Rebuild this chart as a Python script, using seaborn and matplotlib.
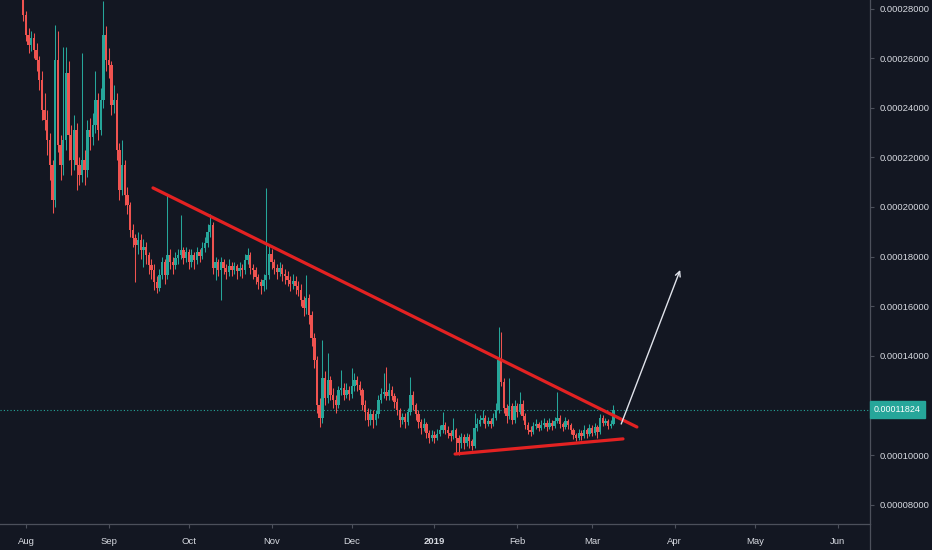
import numpy as np
import pandas as pd
import matplotlib
matplotlib.use("Agg")
import matplotlib.pyplot as plt
import matplotlib.dates as mdates
from matplotlib.lines import Line2D
from matplotlib.ticker import FuncFormatter
import seaborn as sns

BG = "#131722"
UP = "#26a69a"
DOWN = "#ef5350"
AXIS = "#4c505b"
TEXT = "#d6d9e0"
TREND = "#e32222"

# prices in units of 1e-8 (satoshi-like), daily candles from 2018-07-31
SCALE = 1e-8
start = "2018-07-31"
first_open = 28800

closes = [
    27740, 26930, 26530, 26810, 26330, 25930, 25120, 23910, 23510, 22700,
    21690, 20280, 25930, 22500, 21690, 22700, 25400, 22900, 21890, 23100,
    21690, 21290, 21890, 21490, 23100, 22820, 23310, 24310, 23100, 24310,
    26930, 25930, 25720, 24110, 24310, 22300, 20690, 21690, 20480, 20080,
    19070, 18750, 18470, 18670, 18270, 18390, 18060, 17660, 17460, 16980,
    16730, 17260, 17780, 17260, 18060, 17780, 17660, 17940, 18060, 18270,
    17940, 18190, 17780, 18060, 17860, 18190, 18020, 18350, 18550, 18990,
    19270, 17540, 17780, 17460, 17780, 17540, 17380, 17620, 17460, 17620,
    17420, 17540, 17460, 17860, 18060, 17540, 17460, 17180, 16980, 16810,
    17060, 17260, 18100, 17780, 17540, 17380, 17540, 17300, 17220, 17060,
    16900, 17020, 16810, 16650, 16250, 15930, 16330, 15650, 14720, 13830,
    12020, 11490, 13100, 12300, 13020, 12420, 12220, 12020, 12620, 12700,
    12420, 12620, 12460, 12780, 13020, 12820, 12620, 12020, 11730, 11410,
    11650, 11410, 11650, 12220, 12460, 12540, 12380, 12620, 12380, 12140,
    11810, 11410, 11530, 11330, 11730, 12420, 12020, 11650, 11330, 11090,
    11250, 10890, 10690, 10810, 10690, 10850, 11010, 11210, 11010, 10890,
    10770, 11010, 10690, 10480, 10730, 10480, 10730, 10560, 10360, 11090,
    11250, 11410, 11490, 11250, 11370, 11250, 11490, 11810, 13830, 12940,
    11900, 11570, 11980, 11410, 11980, 11730, 12060, 11570, 11210, 11010,
    10930, 11170, 11250, 11090, 11210, 11290, 11130, 11290, 11170, 11370,
    11490, 11250, 11130, 11370, 11210, 11010, 10810, 10690, 10890, 10770,
    11010, 10850, 11090, 10890, 11130, 10930, 11490, 11290, 11370, 11170,
    11250, 11824,
]

highs = [
    29500, 27900, 27200, 27100, 27000, 26600, 26100, 25500, 24600, 23900,
    23000, 21900, 27340, 27100, 22900, 26450, 26450, 25900, 23300, 23700,
    23400, 22000, 26200, 22300, 23500, 23600, 23800, 25500, 24600, 24800,
    28300, 27300, 26400, 25900, 24900, 24600, 22600, 22700, 21900, 20800,
    20200, 19300, 18900, 19000, 18900, 18700, 18600, 18200, 17900, 17700,
    17200, 17500, 18000, 17900, 20480, 18300, 18000, 18200, 18300, 19680,
    18400, 18400, 18300, 18300, 18200, 18400, 18300, 18600, 18800, 19300,
    19700, 19400, 18000, 17900, 18000, 17900, 17700, 17900, 17800, 17800,
    17700, 17800, 17700, 18100, 18350, 18200, 17700, 17600, 17300, 17100,
    17300, 20770, 18500, 18300, 17900, 17700, 17800, 17700, 17500, 17400,
    17200, 17300, 17200, 17000, 16900, 16400, 17260, 16500, 15800, 14900,
    14000, 12300, 14640, 13400, 14110, 13200, 12700, 12400, 12800, 13430,
    12900, 12900, 12800, 13510, 13300, 13200, 13000, 12700, 12200, 11900,
    11850, 11800, 11800, 12400, 12700, 13310, 13550, 12900, 12800, 12500,
    12300, 11900, 11700, 11700, 11900, 13150, 12600, 12100, 11800, 11450,
    11500, 11350, 11000, 11000, 10950, 11050, 11200, 11730, 11350, 11150,
    11000, 11490, 11100, 10800, 10900, 10850, 10900, 10850, 10650, 11690,
    11500, 11600, 11810, 11600, 11550, 11500, 11700, 12100, 15160, 14960,
    13100, 12050, 13100, 12100, 12200, 12100, 12540, 12200, 11700, 11350,
    11150, 11350, 11450, 11350, 11400, 11500, 11400, 11500, 11400, 11550,
    12540, 11600, 11350, 11550, 11450, 11300, 11100, 10900, 11050, 11000,
    11200, 11100, 11250, 11200, 11300, 11200, 11650, 11600, 11500, 11450,
    11400, 12020,
]

lows = [
    27500, 26700, 26200, 26300, 26000, 25500, 24700, 23500, 23100, 22100,
    21100, 19760, 20000, 22200, 21100, 21300, 22300, 21900, 21300, 21500,
    20700, 20900, 21000, 20900, 21200, 22300, 22500, 23000, 22700, 22900,
    24000, 25500, 25200, 23700, 23800, 21900, 20280, 20500, 20100, 19700,
    18800, 18400, 16980, 18100, 17900, 17600, 17700, 17300, 17100, 16650,
    16530, 16600, 17100, 16900, 17100, 17500, 17300, 17500, 17700, 17900,
    17700, 17800, 17500, 17600, 17500, 17700, 17800, 17900, 18200, 18400,
    18800, 17300, 17050, 17200, 16250, 17300, 17100, 17200, 17200, 17300,
    17100, 17200, 17150, 17300, 17700, 17300, 17100, 16900, 16700, 16500,
    16600, 16700, 17100, 17500, 17300, 17100, 17200, 17000, 16900, 16800,
    16600, 16700, 16500, 16400, 16000, 15600, 15700, 15300, 14400, 13500,
    11700, 11130, 11300, 12000, 12100, 12200, 11900, 11700, 11900, 12400,
    12200, 12300, 12200, 12300, 12600, 12600, 12400, 11800, 11400, 11150,
    11200, 11100, 11200, 11500, 12100, 12300, 12200, 12200, 12200, 11900,
    11600, 11130, 11250, 11100, 11200, 11600, 11800, 11400, 11100, 10850,
    10950, 10700, 10500, 10550, 10500, 10600, 10750, 10900, 10850, 10700,
    10550, 10650, 10080, 10000, 10280, 10250, 10350, 10300, 10200, 10300,
    10950, 11150, 11300, 11100, 11150, 11100, 11150, 11400, 11700, 12800,
    11700, 11300, 11450, 11250, 11300, 11550, 11650, 11400, 11050, 10850,
    10750, 10850, 11050, 10950, 11000, 11100, 10950, 11050, 11000, 11100,
    11300, 11100, 10950, 11050, 11050, 10850, 10650, 10560, 10600, 10620,
    10700, 10700, 10750, 10750, 10800, 10680, 10850, 11150, 11200, 11050,
    11100, 11200,
]

last_price = 11824
# 0.00012000 is hidden behind the last-price tag, as in the reference
y_ticks = [8000, 10000, 14000, 16000, 18000, 20000, 22000, 24000, 26000, 28000]
month_ticks = ["2018-08-01", "2018-09-01", "2018-10-01", "2018-11-01", "2018-12-01",
               "2019-01-01", "2019-02-01", "2019-03-01", "2019-04-01", "2019-05-01",
               "2019-06-01"]
month_labels = ["Aug", "Sep", "Oct", "Nov", "Dec", "2019", "Feb", "Mar", "Apr", "May", "Jun"]

# drawn annotations (trendlines + arrow), date / price pairs
upper_dates = ["2018-09-17 14:00", "2019-03-17 19:00"]
upper_prices = [20770, 11130]
lower_dates = ["2019-01-08 17:00", "2019-03-12 14:00"]
lower_prices = [10040, 10650]
arrow_dates = ["2019-03-11 22:00", "2019-04-03 00:00"]
arrow_prices = [11250, 17460]

x_range = ["2018-07-22 07:00", "2019-06-13 02:00"]
y_range = [7218, 28346]

# ── style ──────────────────────────────────────────────────────────────────────
sns.set_theme(style="dark", rc={"axes.facecolor": BG, "figure.facecolor": BG})
plt.rcParams["font.family"] = ["Liberation Sans", "DejaVu Sans"]

fig = plt.figure(figsize=(9.32, 5.5), dpi=100)
ax = fig.add_axes([0, 26 / 550, 870 / 932, 524 / 550])
ax.set_facecolor(BG)

# ── candles ────────────────────────────────────────────────────────────────────
dates = pd.date_range(start, periods=len(closes), freq="D")
x = mdates.date2num(dates)
c = np.array(closes, dtype=float)
o = np.r_[first_open, c[:-1]]
h = np.array(highs, dtype=float)
l = np.array(lows, dtype=float)
cols = np.where(c >= o, UP, DOWN)

ax.vlines(x, l * SCALE, h * SCALE, colors=cols, linewidth=0.75, zorder=2)
ax.bar(x, (c - o) * SCALE, bottom=o * SCALE, width=0.88, color=cols,
       linewidth=0, zorder=3)

# ── last price line ────────────────────────────────────────────────────────────
ax.axhline(last_price * SCALE, color=UP, linewidth=0.8, linestyle=(0, (1, 2)), zorder=1)
ax.annotate(f"{last_price * SCALE:.8f}", xy=(1.0, last_price * SCALE),
            xycoords=("axes fraction", "data"), xytext=(4, 0),
            textcoords="offset pixels", ha="left", va="center",
            color="white", fontsize=6.4,
            bbox=dict(boxstyle="square,pad=0.45", fc=UP, ec=UP), zorder=10,
            annotation_clip=False)

# ── trendlines and arrow ───────────────────────────────────────────────────────
trend_df = pd.DataFrame({
    "date": pd.to_datetime(upper_dates + lower_dates),
    "price": np.array(upper_prices + lower_prices) * SCALE,
    "line": ["upper", "upper", "lower", "lower"],
})
sns.lineplot(data=trend_df, x="date", y="price", units="line", estimator=None,
             color=TREND, linewidth=2.3, ax=ax, zorder=5, legend=False)

ad = mdates.date2num(pd.to_datetime(arrow_dates))
ax.annotate("", xy=(ad[1], arrow_prices[1] * SCALE),
            xytext=(ad[0], arrow_prices[0] * SCALE),
            arrowprops=dict(arrowstyle="->", color="#e0e3eb", lw=1.0,
                            mutation_scale=9, shrinkA=0, shrinkB=0), zorder=6)

# ── axes ───────────────────────────────────────────────────────────────────────
xr = mdates.date2num(pd.to_datetime(x_range))
ax.set_xlim(xr[0], xr[1])
ax.set_ylim(y_range[0] * SCALE, y_range[1] * SCALE)
ax.set_xlabel("")
ax.set_ylabel("")
ax.grid(False)

ax.yaxis.tick_right()
ax.set_yticks(np.array(y_ticks) * SCALE)
ax.yaxis.set_major_formatter(FuncFormatter(lambda v, _: f"{v:.8f}"))
ax.set_xticks(mdates.date2num(pd.to_datetime(month_ticks)))
ax.set_xticklabels(month_labels)
for lab in ax.get_xticklabels():
    if lab.get_text() == "2019":
        lab.set_fontweight("bold")

ax.tick_params(axis="y", which="both", right=True, left=False, length=3,
               width=0.8, color=AXIS, labelcolor=TEXT, labelsize=6.8, pad=4)
ax.tick_params(axis="x", which="both", bottom=True, length=3, width=0.8,
               color=AXIS, labelcolor=TEXT, labelsize=6.8, pad=6)

for side in ["top", "left"]:
    ax.spines[side].set_visible(False)
for side in ["bottom", "right"]:
    ax.spines[side].set_visible(True)
    ax.spines[side].set_color(AXIS)
    ax.spines[side].set_linewidth(0.9)

# right axis line runs down through the date strip
fig.add_artist(Line2D([870 / 932, 870 / 932], [0, 26 / 550], color=AXIS,
                      linewidth=0.9, transform=fig.transFigure))

fig.savefig("out.png", dpi=100, facecolor=BG)
print("Saved: out.png")
